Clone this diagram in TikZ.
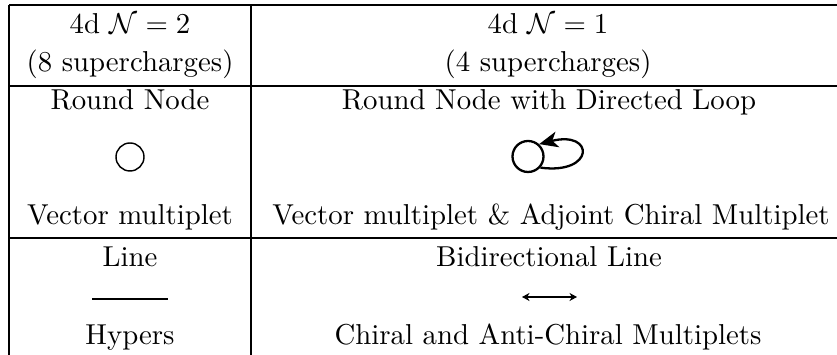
\documentclass[tikz,border=0pt]{standalone}
\usetikzlibrary{arrows.meta}
\begin{document}
\begin{tikzpicture}[x=0.3472pt,y=-0.3472pt,
  rule/.style={line width=0.4pt},
  txt/.style={anchor=base,inner sep=0pt},
  vnode/.style={circle,draw,inner sep=0pt,minimum size=#1},
]
\useasboundingbox (0,0) rectangle (837,355);
% table rules
\draw[rule] (9,5) -- (837,5);
\draw[rule] (9,86) -- (837,86);
\draw[rule] (9,238) -- (837,238);
\draw[rule] (9,5) -- (9,355);
\draw[rule] (251,5) -- (251,355);
% left column
\node[txt] (l1) at (130,34) {4d $\mathcal{N}=2$};
\node[txt] (l2) at (130,72) {(8 supercharges)};
\node[txt] (l3) at (130,110) {Round Node};
\node[vnode=28*0.3472pt,line width=0.5pt] (lc) at (130,157) {};
\node[txt] (l4) at (130,225) {Vector multiplet};
\node[txt] (l5) at (130,267) {Line};
\coordinate (la) at (92,299);
\coordinate (lb) at (168,299);
\draw[line width=0.6pt] (la) -- (lb);
\node[txt] (l6) at (130,345) {Hypers};
% right column
\node[txt] (r1) at (548,34) {4d $\mathcal{N}=1$};
\node[txt] (r2) at (548,72) {(4 supercharges)};
\node[txt] (r3) at (549,110) {Round Node with Directed Loop};
\node[vnode=31*0.3472pt,line width=0.8pt] (rc) at (528,156.5) {};
\draw[line width=0.8pt,-{Stealth[length=6.5pt,width=5.5pt,inset=1.8pt]}]
  (rc.-42) .. controls (595,175) and (595,130) .. (rc.48);
\node[txt] (r4) at (551,225) {Vector multiplet \& Adjoint Chiral Multiplet};
\node[txt] (r5) at (549,267) {Bidirectional Line};
\coordinate (ra) at (522,297);
\coordinate (rb) at (577,297);
\draw[line width=0.4pt,{Stealth[length=2.6pt,width=2.8pt,inset=0.8pt]}-{Stealth[length=2.6pt,width=2.8pt,inset=0.8pt]}] (ra) -- (rb);
\node[txt] (r6) at (548,345) {Chiral and Anti-Chiral Multiplets};
\end{tikzpicture}
\end{document}
